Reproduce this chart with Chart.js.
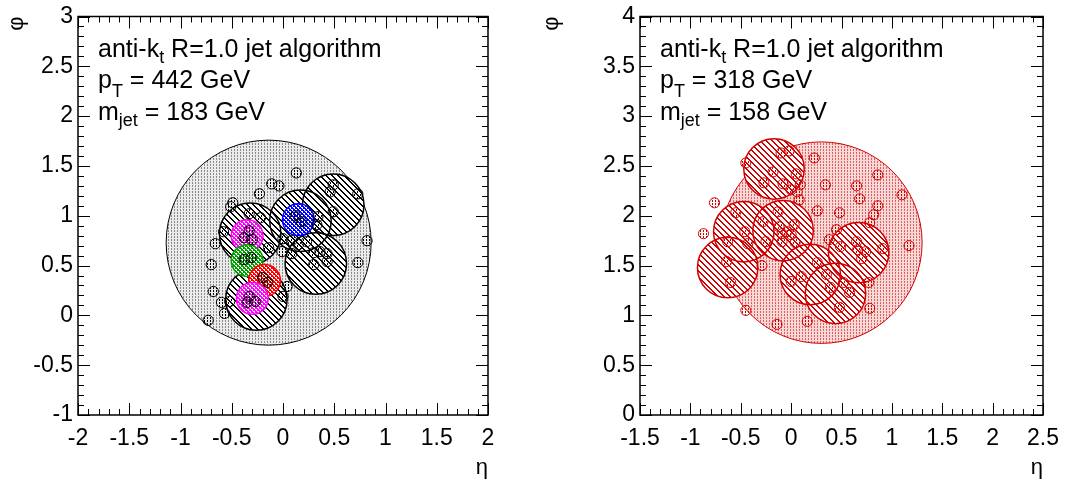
<!DOCTYPE html>
<html><head><meta charset="utf-8">
<script src="https://cdn.jsdelivr.net/npm/chart.js@4.4.1/dist/chart.umd.min.js"></script>
<style>
html,body{margin:0;padding:0;background:#fff;width:1071px;height:484px;overflow:hidden}
#l{position:absolute;left:0;top:0}
#r{position:absolute;left:535px;top:0}
</style></head><body>
<canvas id="l" width="535" height="484"></canvas>
<canvas id="r" width="536" height="484"></canvas>
<script>
// ---------------- data (eta, phi) ----------------
const JET_R = 1.0, SUBJET_R = 0.3, TRIM_R = 0.155, CONST_R = 0.05;

// left event
const L_X_RANGE = [-2, 2];
const L_Y_RANGE = [-1, 3];
const L_JET = [[-0.14, 0.73]];
const L_SUBJETS = [[-0.32, 0.82], [-0.26, 0.16], [0.17, 0.95], [0.49, 1.11], [0.32, 0.52]];
const L_TRIMMED = [[-0.35, 0.80], [-0.35, 0.55], [-0.18, 0.35], [-0.30, 0.17], [0.15, 0.96]];
const L_TRIMMED_COLORS = ['#ff00ff', '#00a000', '#ff0000', '#ff00ff', '#0000ff'];
const L_CONSTITUENTS = [
  [0.13,1.43],[-0.11,1.32],[-0.04,1.30],[-0.23,1.22],[0.49,1.31],[0.46,1.24],[0.73,1.22],
  [-0.49,1.13],[-0.51,1.09],[-0.33,1.02],[-0.58,0.84],[-0.66,0.72],[-0.70,0.51],[-0.68,0.24],
  [-0.60,0.13],[-0.57,0.02],[-0.73,-0.05],[-0.52,0.14],[0.82,0.75],[0.73,0.53],[0.04,0.29],
  [-0.14,0.68],[0.00,0.77],[0.085,0.75],[0.23,0.74],[0.30,0.63],[0.36,0.64],[0.43,0.62],
  [0.30,0.51],[0.43,0.54],[-0.01,0.64],[0.33,0.91],[0.49,1.04],[0.00,0.19],[0.15,0.71],
  [0.085,0.62],[0.34,0.99],[-0.22,0.98],
  [-0.33,0.85],[-0.38,0.78],[-0.30,0.76],[0.12,1.00],[0.18,0.94],[-0.38,0.56],[-0.31,0.58],
  [-0.20,0.38],[-0.15,0.33],[-0.33,0.19],[-0.27,0.14],[-0.35,0.13]
];
const L_TEXT = [
  [['anti-k', 0], ['t', 6], [' R=1.0 jet algorithm', 0]],
  [['p', 0], ['T', 9], [' = 442 GeV', 0]],
  [['m', 0], ['jet', 6], [' = 183 GeV', 0]]
];

// right event
const R_X_RANGE = [-1.5, 2.5];
const R_Y_RANGE = [0, 4];
const R_JET = [[0.30, 1.73]];
const R_SUBJETS = [[-0.17, 2.47], [-0.47, 1.84], [-0.08, 1.85], [-0.63, 1.48], [0.19, 1.41], [0.67, 1.63], [0.44, 1.22]];
const R_CONSTITUENTS = [
  [-0.45,2.53],[-0.10,2.63],[-0.02,2.65],[-0.18,2.44],[-0.27,2.33],[-0.08,2.32],[0.05,2.42],
  [0.09,2.31],[0.06,2.24],[0.00,2.26],[0.23,2.58],[0.34,2.31],[0.65,2.30],[0.68,2.17],
  [0.86,2.41],[1.10,2.21],[-0.76,2.13],[-0.87,1.82],[0.08,2.16],[0.26,2.05],[0.48,2.03],
  [0.86,2.10],[0.82,2.01],[0.78,1.93],[1.17,1.70],[-0.55,2.03],[-0.46,1.84],[-0.63,1.74],
  [-0.43,1.72],[-0.28,1.94],[-0.13,2.04],[-0.12,1.89],[-0.09,1.82],[-0.04,1.84],[0.00,1.81],
  [0.03,1.91],[0.04,1.73],[-0.09,1.74],[-0.25,1.74],[-0.29,1.50],[-0.64,1.54],[-0.60,1.33],
  [0.00,1.34],[0.10,1.39],[0.26,1.53],[0.38,1.76],[0.45,1.86],[0.49,1.69],[0.65,1.74],
  [0.66,1.66],[0.74,1.64],[0.70,1.57],[0.91,1.67],[0.35,1.41],[0.39,1.28],[0.52,1.33],
  [0.58,1.23],[0.77,1.33],[0.48,1.08],[0.78,1.07],[-0.45,1.05],[-0.14,0.91],[0.16,0.94]
];
const R_TEXT = [
  [['anti-k', 0], ['t', 6], [' R=1.0 jet algorithm', 0]],
  [['p', 0], ['T', 9], [' = 318 GeV', 0]],
  [['m', 0], ['jet', 6], [' = 158 GeV', 0]]
];

// ---------------- helpers ----------------
const FONT = '"Liberation Sans", Arial, Helvetica, sans-serif';
const pts = arr => arr.map(p => ({x: p[0], y: p[1]}));
const radiusOf = R => ctx => {
  const s = ctx.chart.scales.x;
  if (!s) return 0;
  const r = Math.abs(s.getPixelForValue(R) - s.getPixelForValue(0));
  return isFinite(r) ? r : 0;
};
function tile(w, h, draw) {
  const c = document.createElement('canvas'); c.width = w; c.height = h;
  const g = c.getContext('2d'); draw(g);
  return g.createPattern(c, 'repeat');
}
const stipple = (bg, col) => tile(3, 3, g => {
  if (bg) { g.fillStyle = bg; g.fillRect(0, 0, 3, 3); }
  g.fillStyle = col; g.fillRect(0, 0, 1, 1); g.fillRect(0, 2, 1, 1);
});
const hatch = col => tile(6, 6, g => {
  g.fillStyle = '#fff'; g.fillRect(0, 0, 6, 6);
  g.fillStyle = col;
  for (let i = 0; i < 6; i++) { g.fillRect(i, i, 1, 1); g.fillRect((i + 1) % 6, i, 1, 1); }
});
const mesh = col => tile(4, 4, g => {
  g.fillStyle = '#fff'; g.fillRect(0, 0, 4, 4);
  g.fillStyle = col;
  for (let i = 0; i < 4; i++) {
    g.fillRect(i, i, 1, 1); g.fillRect(3 - i, i, 1, 1); g.fillRect((i + 1) % 4, i, 1, 1);
  }
});

const frameTicks = {
  id: 'frameTicks',
  afterDatasetsDraw(chart) {
    const {ctx, chartArea: {left, right, top, bottom}, scales: {x, y}} = chart;
    ctx.save();
    ctx.strokeStyle = '#000'; ctx.lineWidth = 1;
    ctx.beginPath();
    const n1 = Math.round((x.max - x.min) / 0.1);
    for (let i = 0; i <= n1; i++) {
      const v = x.min + i * 0.1, L = i % 5 === 0 ? 12 : 6;
      const p = Math.round(x.getPixelForValue(v)) + 0.5;
      ctx.moveTo(p, bottom); ctx.lineTo(p, bottom - L);
      ctx.moveTo(p, top); ctx.lineTo(p, top + L);
    }
    const n2 = Math.round((y.max - y.min) / 0.1);
    for (let i = 0; i <= n2; i++) {
      const v = y.min + i * 0.1, L = i % 5 === 0 ? 12 : 6;
      const p = Math.round(y.getPixelForValue(v)) + 0.5;
      ctx.moveTo(left, p); ctx.lineTo(left + L, p);
      ctx.moveTo(right, p); ctx.lineTo(right - L, p);
    }
    ctx.stroke();
    ctx.lineWidth = 1.5;
    ctx.strokeRect(left, top, right - left, bottom - top);
    ctx.restore();
  }
};
const annotate = {
  id: 'annotate',
  afterDraw(chart, args, opts) {
    const ctx = chart.ctx, size = 25;
    ctx.save(); ctx.fillStyle = '#000'; ctx.textBaseline = 'alphabetic'; ctx.textAlign = 'left';
    const base = [57, 88, 120];
    opts.lines.forEach((segs, k) => {
      let cx = chart.chartArea.left + 20;
      segs.forEach(([t, dy]) => {
        const fs = dy ? Math.round(size * 0.7) : size;
        ctx.font = fs + 'px ' + FONT;
        ctx.fillText(t, cx, base[k] + dy);
        cx += ctx.measureText(t).width;
      });
    });
    ctx.restore();
  }
};

function circles(data, R, fill, border, bw, order) {
  return {
    data: pts(data), showLine: false, order,
    pointStyle: 'circle',
    pointRadius: radiusOf(R), pointHoverRadius: radiusOf(R),
    pointBackgroundColor: fill, pointBorderColor: border,
    pointBorderWidth: bw, pointHoverBorderWidth: bw
  };
}

function makeChart(id, cfg) {
  const c = cfg.color;
  const datasets = [
    circles(cfg.jet, JET_R, stipple(cfg.tint, cfg.dot), c, 1, 6),
    circles(cfg.subjets, SUBJET_R, hatch(c), 'rgba(0,0,0,0)', 0, 5),
    circles(cfg.subjets, SUBJET_R, 'rgba(0,0,0,0)', c, 1.5, 4)
  ];
  if (cfg.trimmed) datasets.push(circles(cfg.trimmed, TRIM_R, cfg.trimColors.map(mesh), cfg.trimColors, 1.5, 3));
  datasets.push(circles(cfg.consts, CONST_R, stipple(null, c), c, 1, 1));
  const tickFont = {family: FONT, size: 23, lineHeight: 1};
  const fmt = v => String(Math.round(v * 100) / 100);
  return new Chart(document.getElementById(id), {
    type: 'scatter',
    data: {datasets},
    plugins: [frameTicks, annotate],
    options: {
      responsive: false, animation: false, events: [], devicePixelRatio: 1,
      layout: {padding: {left: 0, right: cfg.padRight, top: 13, bottom: 0}},
      plugins: {legend: {display: false}, tooltip: {enabled: false}, annotate: {lines: cfg.text}},
      scales: {
        x: {
          type: 'linear', min: cfg.xr[0], max: cfg.xr[1],
          grid: {display: false, drawTicks: false}, border: {display: false},
          ticks: {stepSize: 0.5, autoSkip: false, maxRotation: 0, padding: 12, color: '#000', font: tickFont, callback: fmt},
          title: {display: true, text: 'η', align: 'end', color: '#000', font: {family: FONT, size: 22}, padding: {top: 0, bottom: 3}},
          afterFit(s) { s.height = 69; }
        },
        y: {
          type: 'linear', min: cfg.yr[0], max: cfg.yr[1],
          grid: {display: false, drawTicks: false}, border: {display: false},
          ticks: {stepSize: 0.5, autoSkip: false, padding: 5, color: '#000', font: tickFont, callback: fmt},
          title: {display: true, text: 'φ', align: 'end', color: '#000', font: {family: FONT, size: 22}, padding: {top: 4, bottom: 0}},
          afterFit(s) { s.width = cfg.axisW; }
        }
      }
    }
  });
}

makeChart('l', {
  color: '#000', tint: '#ebebeb', dot: '#8a8a8a', xr: L_X_RANGE, yr: L_Y_RANGE, axisW: 78, padRight: 47,
  jet: L_JET, subjets: L_SUBJETS, trimmed: L_TRIMMED, trimColors: L_TRIMMED_COLORS,
  consts: L_CONSTITUENTS, text: L_TEXT
});
makeChart('r', {
  color: '#d00000', tint: '#f9d8d8', dot: '#e06060', xr: R_X_RANGE, yr: R_Y_RANGE, axisW: 105, padRight: 21,
  jet: R_JET, subjets: R_SUBJETS, trimmed: null,
  consts: R_CONSTITUENTS, text: R_TEXT
});
</script>
</body></html>
